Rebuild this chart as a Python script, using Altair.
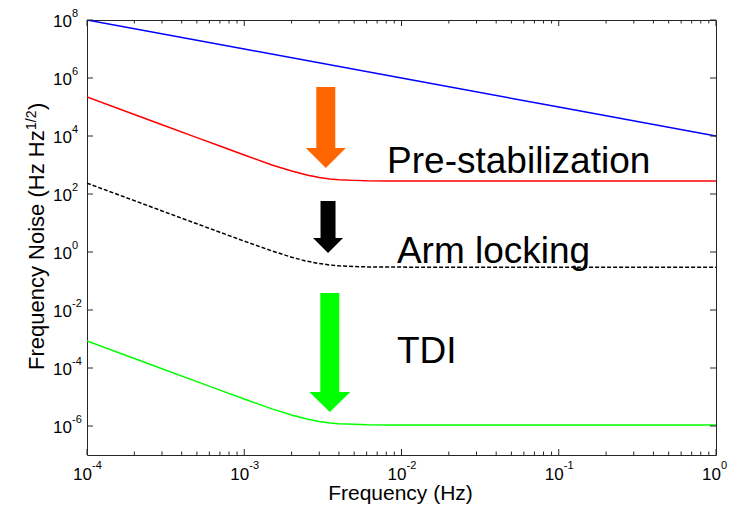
import altair as alt
import pandas as pd

FONT = "Liberation Sans, Arial, sans-serif"
AXC = "#262626"
W, H = 629, 435

# ---- data ----
freq = [1e-4, 2e-4, 3e-4, 5e-4, 7e-4, 1e-3, 1.5e-3, 2e-3, 2.5e-3, 3e-3,
        3.5e-3, 4e-3, 5e-3, 6e-3, 8e-3, 1e-2, 3e-2, 1e-1, 1.0]
red_noise = [2.2e5, 5.5e4, 2.44e4, 8.8e3, 4.5e3, 2.2e3, 1.0e3, 6.2e2, 4.5e2, 3.7e2,
             3.3e2, 3.1e2, 2.95e2, 2.86e2, 2.82e2, 2.81e2, 2.8e2, 2.8e2, 2.8e2]
black_noise = [2.36e2, 5.9e1, 2.6e1, 9.4, 4.8, 2.37, 1.09, 0.66, 0.48, 0.40,
               0.356, 0.334, 0.314, 0.307, 0.302, 0.301, 0.3, 0.3, 0.3]
green_noise = [8.5e-4, 2.12e-4, 9.4e-5, 3.4e-5, 1.73e-5, 8.5e-6, 3.9e-6, 2.39e-6, 1.73e-6, 1.43e-6,
               1.27e-6, 1.2e-6, 1.14e-6, 1.10e-6, 1.09e-6, 1.08e-6, 1.08e-6, 1.08e-6, 1.08e-6]
blue_freq = [1e-4, 1e-3, 1e-2, 1e-1, 1.0]
blue_noise = [1e8, 1e7, 1e6, 1e5, 1e4]

x_major = [1e-4, 1e-3, 1e-2, 1e-1, 1.0]
x_exp = ["-4", "-3", "-2", "-1", "0"]
x_minor = [m * d for d in [1e-4, 1e-3, 1e-2, 1e-1] for m in range(2, 10)]
y_major = [1e-6, 1e-4, 1e-2, 1e0, 1e2, 1e4, 1e6, 1e8]
y_exp = ["-6", "-4", "-2", "0", "2", "4", "6", "8"]

labels = ["Pre-stabilization", "Arm locking", "TDI"]
label_freq = [8.1e-3, 9.35e-3, 9.35e-3]
label_val = [530, 0.418, 1.49e-4]

arrow_freq = [3.3e-3, 3.41e-3, 3.5e-3]
arrow_val = [1.96e4, 7.28, 3.42e-4]

x_title = ["Frequency (Hz)"]
y_title = ["Frequency Noise (Hz Hz", "1/2", ")"]

# ---- scales ----
xs = alt.Scale(type="log", domain=[1e-4, 1.0], nice=False)
ys = alt.Scale(type="log", domain=[1e-7, 1e8], nice=False)
X = lambda f="f": alt.X(f"{f}:Q", scale=xs, axis=None)
Y = lambda f="v": alt.Y(f"{f}:Q", scale=ys, axis=None)


def curve(fx, vals, color, dash=None):
    df = pd.DataFrame({"f": fx, "v": vals})
    kw = dict(color=color, strokeWidth=1.5, clip=True)
    if dash:
        kw["strokeDash"] = dash
    return alt.Chart(df).mark_line(**kw).encode(x=X(), y=Y())


layers = [
    curve(blue_freq, blue_noise, "#0000FF"),
    curve(freq, red_noise, "#FF0000"),
    curve(freq, black_noise, "#000000", [4, 2]),
    curve(freq, green_noise, "#00FF00"),
]

# arrows (custom path shapes)
arrow_specs = [
    ("#FF6600", 1600, "M-0.475,-2.025L0.475,-2.025L0.475,1.025L1,1.025L0,2.025L-1,1.025L-0.475,1.025Z"),
    ("#000000", 900, "M-0.5,-1.733L0.5,-1.733L0.5,0.733L1,0.733L0,1.733L-1,0.733L-0.5,0.733Z"),
    ("#00FF00", 1681, "M-0.463,-2.902L0.463,-2.902L0.463,1.927L1,1.927L0,2.902L-1,1.927L-0.463,1.927Z"),
]
for i, (col, size, path) in enumerate(arrow_specs):
    df = pd.DataFrame({"f": [arrow_freq[i]], "v": [arrow_val[i]]})
    layers.append(
        alt.Chart(df).mark_point(shape=path, size=size, filled=True, color=col,
                                 opacity=1, strokeWidth=0).encode(x=X(), y=Y())
    )

# annotation labels
ann = pd.DataFrame({"f": label_freq, "v": label_val, "t": labels})
layers.append(
    alt.Chart(ann).mark_text(align="left", baseline="alphabetic", fontSize=37,
                             font=FONT, color="#000000").encode(x=X(), y=Y(), text="t:N")
)

# ticks (inward) on all four sides
xmaj = pd.DataFrame({"f": x_major, "e": x_exp})
xmin = pd.DataFrame({"f": x_minor})
ymaj = pd.DataFrame({"v": y_major, "e": y_exp})
for df, ln in [(xmaj, 6), (xmin, 3.5)]:
    layers.append(alt.Chart(df).mark_rule(color=AXC, strokeWidth=1).encode(
        x=X(), y=alt.value(H), y2=alt.value(H - ln)))
    layers.append(alt.Chart(df).mark_rule(color=AXC, strokeWidth=1).encode(
        x=X(), y=alt.value(0), y2=alt.value(ln)))
layers.append(alt.Chart(ymaj).mark_rule(color=AXC, strokeWidth=1).encode(
    y=Y(), x=alt.value(0), x2=alt.value(6)))
layers.append(alt.Chart(ymaj).mark_rule(color=AXC, strokeWidth=1).encode(
    y=Y(), x=alt.value(W), x2=alt.value(W - 6)))

# tick labels: "10" with superscript exponent
layers.append(alt.Chart(xmaj).mark_text(text="10", align="right", baseline="alphabetic",
                                        dx=5, fontSize=17, font=FONT, color="#000").encode(
    x=X(), y=alt.value(H + 25)))
layers.append(alt.Chart(xmaj).mark_text(align="left", baseline="alphabetic",
                                        dx=5, fontSize=11, font=FONT, color="#000").encode(
    x=X(), y=alt.value(H + 14), text="e:N"))
layers.append(alt.Chart(ymaj).mark_text(text="10", align="right", baseline="alphabetic",
                                        dy=7, fontSize=17, font=FONT, color="#000").encode(
    y=Y(), x=alt.value(-15)))
layers.append(alt.Chart(ymaj).mark_text(align="left", baseline="alphabetic",
                                        dy=-3, fontSize=11, font=FONT, color="#000").encode(
    y=Y(), x=alt.value(-15), text="e:N"))

# axis titles
layers.append(alt.Chart(pd.DataFrame({"t": x_title})).mark_text(
    align="center", baseline="alphabetic", fontSize=21, font=FONT, color="#000").encode(
    x=alt.value(W / 2 - 1), y=alt.value(H + 45), text="t:N"))
yt = pd.DataFrame({"t": y_title})
layers.append(alt.Chart(yt).transform_filter(alt.datum.t == y_title[0]).mark_text(
    angle=270, align="left", baseline="alphabetic", fontSize=22, font=FONT, color="#000").encode(
    x=alt.value(-43), y=alt.value(350), text="t:N"))
layers.append(alt.Chart(yt).transform_filter(alt.datum.t == y_title[1]).mark_text(
    angle=270, align="left", baseline="alphabetic", fontSize=14, font=FONT, color="#000").encode(
    x=alt.value(-51), y=alt.value(110), text="t:N"))
layers.append(alt.Chart(yt).transform_filter(alt.datum.t == y_title[2]).mark_text(
    angle=270, align="left", baseline="alphabetic", fontSize=22, font=FONT, color="#000").encode(
    x=alt.value(-43), y=alt.value(90), text="t:N"))

chart = alt.layer(*layers).properties(
    width=W, height=H,
    autosize=alt.AutoSizeParams(type="none"),
    padding={"left": 79, "top": 12, "right": 15, "bottom": 52},
    background="white",
).configure_view(stroke=AXC, strokeWidth=1)

chart.save("out.html", embed_options={"renderer": "svg", "actions": False})
